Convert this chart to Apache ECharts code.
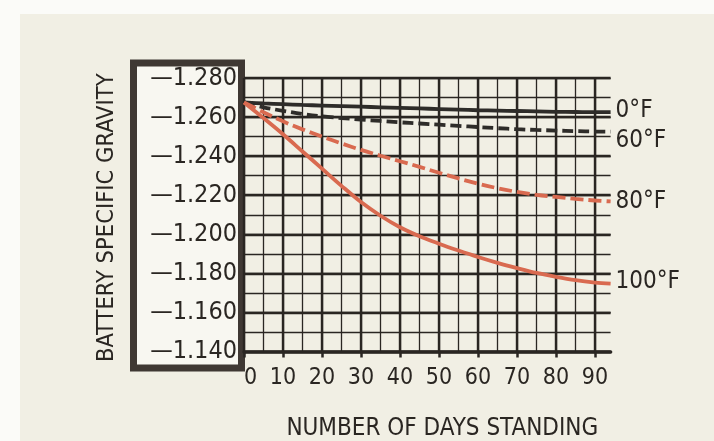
<!DOCTYPE html>
<html>
<head>
<meta charset="utf-8">
<script src="https://cdn.jsdelivr.net/npm/echarts@6/dist/echarts.min.js"></script>
<style>
html,body{margin:0;padding:0;background:#fbfbf8;}
#chart{width:714px;height:441px;}
</style>
</head>
<body>
<div id="chart"></div>
<script>
// ---- data ----
const days = [0, 5, 10, 15, 20, 25, 30, 35, 40, 45, 50, 55, 60, 65, 70, 75, 80, 85, 90, 94];
const gravity0F   = [1.2675, 1.2670, 1.2666, 1.2662, 1.2659, 1.2656, 1.2653, 1.2650, 1.2647, 1.2644, 1.2641, 1.2638, 1.2635, 1.2633, 1.2631, 1.2629, 1.2627, 1.2626, 1.2625, 1.2625];
const gravity60F  = [1.2675, 1.2650, 1.2632, 1.2616, 1.2604, 1.2595, 1.2587, 1.2580, 1.2573, 1.2567, 1.2561, 1.2555, 1.2549, 1.2543, 1.2538, 1.2534, 1.2531, 1.2528, 1.2526, 1.2525];
const gravity80F  = [1.2675, 1.2625, 1.2578, 1.2537, 1.2500, 1.2465, 1.2432, 1.2402, 1.2374, 1.2345, 1.2315, 1.2286, 1.2259, 1.2236, 1.2217, 1.2202, 1.2191, 1.2181, 1.2173, 1.2168];
const gravity100F = [1.2675, 1.2595, 1.2512, 1.2424, 1.2336, 1.2248, 1.2165, 1.2095, 1.2036, 1.1990, 1.1952, 1.1917, 1.1884, 1.1854, 1.1827, 1.1802, 1.1782, 1.1765, 1.1753, 1.1747];
const seriesNames = ['0°F', '60°F', '80°F', '100°F'];
const xTickLabels = [0, 10, 20, 30, 40, 50, 60, 70, 80, 90];
const yMin = 1.14, yMax = 1.28;
const xTitle = 'NUMBER OF DAYS STANDING';
const yTitle = 'BATTERY SPECIFIC GRAVITY';

// ---- styles ----
const FONT = "'Liberation Sans Narrow', 'Arial Narrow', 'DejaVu Sans Condensed', sans-serif";
const INK = '#2a2622';
const RED = '#d96a50';
const DARK = '#2e2c29';

function pairs(vals) { return days.map((d, i) => [d, vals[i]]); }

const chart = echarts.init(document.getElementById('chart'), null, {renderer: 'canvas'});

const gridBox = {left: 244, top: 78, height: 273.5, containLabel: false, outerBoundsMode: 'none'};

const option = {
  backgroundColor: '#fbfbf8',
  animation: false,
  graphic: [
    {type: 'rect', z: -20, shape: {x: 20, y: 14, width: 700, height: 430}, style: {fill: '#f1efe4'}},
    {type: 'rect', z: -10, shape: {x: 133.5, y: 63, width: 108, height: 305}, style: {fill: '#f8f7f1', stroke: '#3f3833', lineWidth: 7}}
  ],
  grid: [
    Object.assign({width: 94 * 3.9}, gridBox),
    Object.assign({width: 90 * 3.9}, gridBox)
  ],
  xAxis: [
    { // data axis (extends a little past 90)
      type: 'value', gridIndex: 0, min: 0, max: 94, interval: 10,
      axisLine: {show: true, lineStyle: {color: INK, width: 3.5}},
      axisTick: {show: false}, axisLabel: {show: false}, splitLine: {show: false},
      name: xTitle, nameLocation: 'middle', nameGap: 65,
      nameTextStyle: {fontFamily: FONT, fontSize: 24, color: INK, padding: [0, 0, 0, 30]}
    },
    { // thick verticals + labels
      type: 'value', gridIndex: 1, min: 0, max: 90, interval: 10,
      axisLine: {show: false},
      axisTick: {show: true, length: 6, lineStyle: {color: INK, width: 2.5}},
      axisLabel: {show: true, fontFamily: FONT, fontSize: 23, color: INK, margin: 15, alignMinLabel: 'left',
        customValues: xTickLabels},
      splitLine: {show: true, lineStyle: {color: INK, width: 2.4}}
    },
    { // thin verticals
      type: 'value', gridIndex: 1, min: 0, max: 90, interval: 5,
      axisLine: {show: false}, axisTick: {show: false}, axisLabel: {show: false},
      splitLine: {show: true, lineStyle: {color: INK, width: 1.3}}
    }
  ],
  yAxis: [
    { // thick horizontals + labels
      type: 'value', gridIndex: 0, min: yMin, max: yMax, interval: 0.02,
      axisLine: {show: false}, axisTick: {show: false},
      axisLabel: {show: true, fontFamily: FONT, fontSize: 25, color: INK, margin: 7,
        formatter: v => '—' + v.toFixed(3)},
      splitLine: {show: true, lineStyle: {color: INK, width: 2.4}},
      name: yTitle, nameLocation: 'middle', nameRotate: 90, nameGap: 125,
      nameTextStyle: {fontFamily: FONT, fontSize: 23.5, color: INK, padding: [0, 6, 0, 0]}
    },
    { // thin horizontals
      type: 'value', gridIndex: 0, min: yMin, max: yMax, interval: 0.01,
      axisLine: {show: false}, axisTick: {show: false}, axisLabel: {show: false},
      splitLine: {show: true, lineStyle: {color: INK, width: 1.3}}
    },
    {
      type: 'value', gridIndex: 1, min: yMin, max: yMax, show: false
    }
  ],
  series: [
    {name: seriesNames[0], vals: gravity0F, color: DARK, type: 'solid', off: [0, -1]},
    {name: seriesNames[1], vals: gravity60F, color: DARK, type: [11, 5], off: [0, 9]},
    {name: seriesNames[2], vals: gravity80F, color: RED, type: [13, 5], off: [0, 0]},
    {name: seriesNames[3], vals: gravity100F, color: RED, type: 'solid', off: [0, -2]}
  ].map(s => ({
    name: s.name, type: 'line', xAxisIndex: 0, yAxisIndex: 0,
    data: pairs(s.vals), smooth: 0.35, symbol: 'none', z: 5,
    lineStyle: {color: s.color, width: 3.8, type: s.type, cap: 'butt'},
    endLabel: {show: true, formatter: p => p.seriesName, fontFamily: FONT, fontSize: 24,
      color: INK, distance: 5, offset: s.off}
  }))
};

chart.setOption(option);
</script>
</body>
</html>
